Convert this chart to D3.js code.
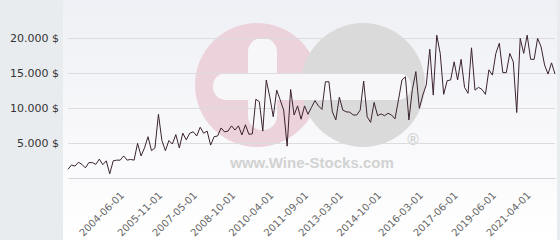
<!DOCTYPE html>
<html>
<head>
<meta charset="utf-8">
<script src="https://cdn.jsdelivr.net/npm/d3@7"></script>
<style>
  body { margin: 0; background: #e9ecef; }
  svg { display: block; }
</style>
</head>
<body>
<div id="chart"></div>
<script>
// Price per sale (USD)
const prices = [
  1250, 1850, 1700, 2250, 1950, 1450, 2200, 2200, 1950, 2700, 1900, 2450, 600, 2450, 2550, 2550,
  3150, 2550, 2650, 2550, 4950, 3150, 4300, 5900, 3900, 4300, 9100, 5350, 3900, 5350, 4850, 6200,
  4300, 6400, 5450, 6400, 6600,
  6000, 7250, 6400, 6700, 4700, 5900, 6000, 7150, 6600, 6700, 7450, 6850, 7450, 6150, 7600, 6250,
  6300, 11250, 10900, 6700, 14000, 11600, 8750, 12550, 11150, 9700, 4550, 12650, 9000, 10300, 8400,
  10300, 9100, 10100, 11050, 10300, 9800, 13750, 13750, 9450, 8300, 11550, 9700, 9450, 9400, 9000,
  9000, 9700,
  13850, 8750, 7950, 10800, 8900, 9150, 8900, 9250, 9000, 8450, 11150, 14000, 14450, 8300, 12650,
  15200, 9950, 11850, 13300, 18400, 11850, 20400, 17800, 11950, 13900, 14000, 16600, 14000, 16950,
  12950, 12100, 18600, 12550, 12950, 12650, 11950, 15450, 14700, 17800, 19250, 15050, 15050, 17800,
  16600, 9350, 19950, 17800, 20400, 16950, 16950, 19950, 18750, 16150, 14850, 16450, 14850
];

// Labelled categories on the x axis
const tickIndex = [17, 28, 38, 49, 60, 70, 80, 91, 103, 113, 124, 134];
const tickLabels = [
  "2004-06-01", "2005-11-01", "2007-05-01", "2008-10-01", "2010-04-01", "2011-09-01",
  "2013-03-01", "2014-10-01", "2016-03-01", "2017-06-01", "2019-06-01", "2021-04-01"
];

const yTicks = [5000, 10000, 15000, 20000];

const width = 560, height = 240;
const plotLeft = 68, plotRight = 555, plotTop = 38, plotBottom = 178;

const svg = d3.select("#chart").append("svg")
  .attr("width", width)
  .attr("height", height);

// background panel with a soft vertical gradient
const defs = svg.append("defs");
const grad = defs.append("linearGradient")
  .attr("id", "bg")
  .attr("x1", 0).attr("y1", 0).attr("x2", 0).attr("y2", 1);
grad.append("stop").attr("offset", "0%").attr("stop-color", "#eff0f5");
grad.append("stop").attr("offset", "100%").attr("stop-color", "#ffffff");

svg.append("rect")
  .attr("width", width).attr("height", height)
  .attr("fill", "#e9ecef");
svg.append("rect")
  .attr("x", 63).attr("y", 0)
  .attr("width", 494).attr("height", height)
  .attr("fill", "url(#bg)");

// watermark logo
const wm = svg.append("g").attr("class", "watermark");
wm.append("circle").attr("cx", 257).attr("cy", 85).attr("r", 62).attr("fill", "#ecd2da");
wm.append("circle").attr("cx", 363).attr("cy", 85).attr("r", 62).attr("fill", "#dadada");
wm.append("rect").attr("x", 213).attr("y", 73).attr("width", 198).attr("height", 27)
  .attr("rx", 13).attr("fill", "#f7f7fa");
wm.append("rect").attr("x", 248).attr("y", 38).attr("width", 29).attr("height", 92)
  .attr("rx", 14).attr("fill", "#f7f7fa");
wm.append("text")
  .attr("x", 312).attr("y", 168)
  .attr("text-anchor", "middle")
  .attr("font-family", "Liberation Sans, Arial, sans-serif")
  .attr("font-weight", "bold")
  .attr("font-size", 15)
  .attr("fill", "#d2d2d2")
  .text("www.Wine-Stocks.com");
wm.append("text")
  .attr("x", 413).attr("y", 145)
  .attr("text-anchor", "middle")
  .attr("font-family", "DejaVu Sans, sans-serif")
  .attr("font-size", 15)
  .attr("fill", "#cfcfcf")
  .text("®");

const x = d3.scaleLinear().domain([0, prices.length - 1]).range([plotLeft, plotRight]);
const y = d3.scaleLinear().domain([0, 20000]).range([plotBottom, plotTop]);

// y axis + grid
const yAxis = svg.append("g")
  .attr("transform", `translate(${plotLeft},0)`)
  .call(d3.axisLeft(y)
    .tickValues(yTicks)
    .tickSize(-(plotRight - plotLeft))
    .tickPadding(9)
    .tickFormat(d => d3.format(",")(d).replace(",", ".") + " $"));
yAxis.select(".domain").remove();
yAxis.selectAll(".tick line").attr("stroke", "#dcdcdf");
yAxis.selectAll(".tick text")
  .attr("fill", "#333")
  .attr("font-family", "DejaVu Sans, Verdana, sans-serif")
  .attr("font-size", 11);

// x axis
const xAxis = svg.append("g")
  .attr("transform", `translate(0,${plotBottom})`)
  .call(d3.axisBottom(x)
    .tickValues(tickIndex)
    .tickSize(0)
    .tickSizeOuter(0)
    .tickFormat((d, i) => tickLabels[i]));
xAxis.select(".domain").attr("stroke", "#d6d6d9");
xAxis.selectAll(".tick text")
  .attr("fill", "#666")
  .attr("font-family", "DejaVu Sans, Verdana, sans-serif")
  .attr("font-size", 10)
  .attr("text-anchor", "end")
  .attr("y", 0)
  .attr("dy", 0)
  .attr("transform", "translate(-3,18) rotate(-45)");

// price line
const line = d3.line()
  .x((d, i) => x(i))
  .y(d => y(d));

svg.append("path")
  .datum(prices)
  .attr("fill", "none")
  .attr("stroke", "#3b2330")
  .attr("stroke-width", 1)
  .attr("stroke-linejoin", "miter")
  .attr("d", line);
</script>
</body>
</html>
